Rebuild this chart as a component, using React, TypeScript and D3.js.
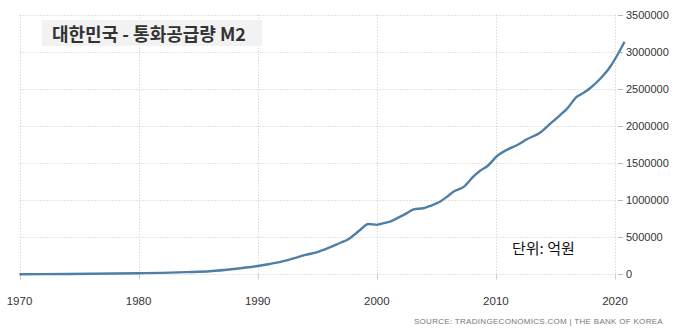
import React from "react";
import * as d3 from "d3";

const TITLE = "대한민국 - 통화공급량 M2";
const UNIT_LABEL = "단위: 억원";
const SOURCE = "SOURCE: TRADINGECONOMICS.COM  |  THE BANK OF KOREA";

const xTicks = [1970, 1980, 1990, 2000, 2010, 2020];
const yTicks = [0, 500000, 1000000, 1500000, 2000000, 2500000, 3000000, 3500000];

const years = [
  1970, 1972, 1974, 1976, 1978, 1980, 1982, 1984, 1986, 1988, 1990, 1991, 1992, 1993, 1994, 1995,
  1996, 1997, 1997.5, 1998, 1998.6, 1999.3, 2000, 2000.5, 2001.1, 2001.8, 2002.5, 2003.1, 2003.9,
  2004.5, 2005.3, 2006, 2006.4, 2007.3, 2008.1, 2008.7, 2009.3, 2010.1, 2010.9, 2011.8, 2012.6,
  2013.7, 2014.6, 2015.4, 2016, 2016.8, 2017.3, 2017.9, 2018.8, 2019.6, 2020.2, 2020.8,
];
const m2Values = [
  2000, 3500, 5500, 8500, 12000, 16000, 21000, 30000, 42000, 72000, 113000, 140000, 172000, 215000,
  262000, 300000, 360000, 430000, 464000, 520000, 598000, 679000, 668000, 688000, 711000, 765000,
  823000, 877000, 891000, 925000, 980000, 1060000, 1110000, 1180000, 1317000, 1400000, 1461000,
  1596000, 1677000, 1744000, 1821000, 1910000, 2036000, 2148000, 2238000, 2395000, 2440000, 2508000,
  2643000, 2799000, 2957000, 3136000,
];

export default function App() {
  const W = 679;
  const H = 334;
  const x = d3.scaleLinear().domain([1970, 2020]).range([19.5, 615]);
  const y = d3.scaleLinear().domain([0, 3500000]).range([274.4, 14.7]);
  const data = years.map((yr, i) => ({ yr, v: m2Values[i] }));
  const line = d3
    .line<{ yr: number; v: number }>()
    .x((d) => x(d.yr))
    .y((d) => y(d.v))
    .curve(d3.curveMonotoneX);

  const gridColor = "#c8c8c8";
  return (
    <svg
      width={W}
      height={H}
      style={{ position: "absolute", left: 0, top: 0, background: "#fff" }}
      fontFamily="'Liberation Sans', Arial, sans-serif"
    >
      {yTicks.map((t) => (
        <line
          key={"hy" + t}
          x1={x(1970)}
          x2={x(2020)}
          y1={Math.round(y(t)) + 0.5}
          y2={Math.round(y(t)) + 0.5}
          stroke={gridColor}
          strokeDasharray="1,2"
        />
      ))}
      {xTicks.map((t) => (
        <line
          key={"vx" + t}
          x1={Math.round(x(t)) + 0.5}
          x2={Math.round(x(t)) + 0.5}
          y1={y(3500000)}
          y2={y(0)}
          stroke={gridColor}
          strokeDasharray="1,2"
        />
      ))}
      {yTicks.map((t) => (
        <line
          key={"ty" + t}
          x1={x(2020) + 3}
          x2={x(2020) + 8}
          y1={Math.round(y(t)) + 0.5}
          y2={Math.round(y(t)) + 0.5}
          stroke="#bbb"
        />
      ))}
      {xTicks.map((t) => (
        <line
          key={"tx" + t}
          x1={Math.round(x(t)) + 0.5}
          x2={Math.round(x(t)) + 0.5}
          y1={y(0)}
          y2={y(0) + 5}
          stroke="#ccc"
        />
      ))}
      {yTicks.map((t) => (
        <text key={"ly" + t} x={626} y={y(t) + 4} fontSize={11} fill="#333">
          {t}
        </text>
      ))}
      {xTicks.map((t) => (
        <text key={"lx" + t} x={x(t)} y={305} fontSize={11.5} fill="#333" textAnchor="middle">
          {t}
        </text>
      ))}
      <path d={line(data) || ""} fill="none" stroke="#4f7fa6" strokeWidth={2.4} strokeLinejoin="round" />
      <rect x={42} y={20} width={220} height={26} fill="#f2f2f2" />
      <text
        x={52}
        y={40.5}
        fontSize={18}
        fontWeight="bold"
        fill="#333"
        fontFamily="'Noto Sans CJK KR', 'Noto Sans', sans-serif"
      >
        {TITLE}
      </text>
      <text x={512} y={254} fontSize={15} fill="#111" fontFamily="'Noto Sans CJK KR', sans-serif">
        {UNIT_LABEL}
      </text>
      <text x={663} y={323.5} fontSize={8} fill="#777" textAnchor="end" letterSpacing={0.3}>
        {SOURCE}
      </text>
    </svg>
  );
}
